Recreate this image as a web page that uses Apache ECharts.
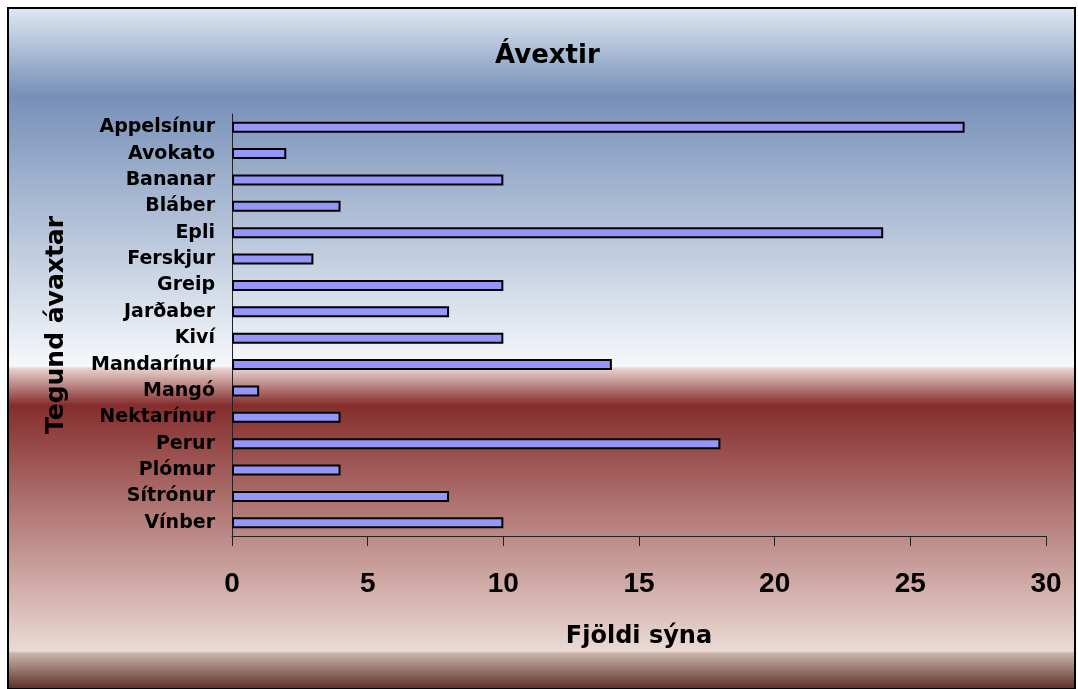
<!DOCTYPE html>
<html>
<head>
<meta charset="utf-8">
<script src="https://cdn.jsdelivr.net/npm/echarts@6/dist/echarts.min.js"></script>
<style>
  html, body { margin: 0; padding: 0; background: #fff; }
  #chart { width: 1078px; height: 689px; }
</style>
</head>
<body>
<div id="chart"></div>
<script>
// ávextir - fjöldi sýna eftir tegund
const categories = ['Appelsínur', 'Avokato', 'Bananar', 'Bláber', 'Epli', 'Ferskjur', 'Greip', 'Jarðaber',
  'Kiví', 'Mandarínur', 'Mangó', 'Nektarínur', 'Perur', 'Plómur', 'Sítrónur', 'Vínber'];
const counts = [27, 2, 10, 4, 24, 3, 10, 8, 10, 14, 1, 4, 18, 4, 8, 10];
const xTicks = [0, 5, 10, 15, 20, 25, 30];

const font = 'DejaVu Sans, Verdana, sans-serif';
const numFont = 'Liberation Sans, Arial, sans-serif';
const chart = echarts.init(document.getElementById('chart'));

const option = {
  animation: false,
  graphic: [
    {
      type: 'rect',
      z: -10,
      shape: { x: 8, y: 8, width: 1067, height: 681 },
      style: {
        fill: new echarts.graphic.LinearGradient(0, 0, 0, 1, [
          { offset: 0, color: '#dfe9f3' },
          { offset: 0.13, color: '#7690b8' },
          { offset: 0.526, color: '#f6f8fb' },
          { offset: 0.529, color: '#e8d3d0' },
          { offset: 0.583, color: '#852d2d' },
          { offset: 0.943, color: '#ebdad4' },
          { offset: 0.946, color: '#c9b5ad' },
          { offset: 1, color: '#5a2a22' }
        ]),
        stroke: '#000',
        lineWidth: 2
      }
    }
  ],
  title: {
    text: 'Ávextir',
    left: 490,
    top: 38,
    textStyle: { fontFamily: font, fontSize: 26, fontWeight: 'bold', color: '#000' }
  },
  grid: { left: 232, right: 32, top: 114, bottom: 153 },
  xAxis: {
    type: 'value',
    min: 0,
    max: 30,
    interval: 5,
    name: 'Fjöldi sýna',
    nameLocation: 'middle',
    nameGap: 89,
    nameTextStyle: { fontFamily: font, fontSize: 24, fontWeight: 'bold', color: '#000' },
    axisLine: { show: true, lineStyle: { color: '#222', width: 1 } },
    axisTick: { show: true, length: 10, lineStyle: { color: '#222' } },
    splitLine: { show: false },
    axisLabel: {
      margin: 34,
      fontFamily: numFont, fontSize: 28, fontWeight: 'bold', color: '#000',
      formatter: v => xTicks.includes(v) ? String(v) : ''
    }
  },
  yAxis: {
    type: 'category',
    inverse: true,
    data: categories,
    name: 'Tegund ávaxtar',
    nameLocation: 'middle',
    nameGap: 163,
    nameRotate: 90,
    nameTextStyle: { fontFamily: font, fontSize: 25, fontWeight: 'bold', color: '#000' },
    axisLine: { show: true, lineStyle: { color: '#222', width: 1 } },
    axisTick: { show: false },
    axisLabel: { margin: 17, fontFamily: font, fontSize: 19, fontWeight: 'bold', color: '#000' }
  },
  series: [
    {
      type: 'bar',
      data: counts,
      barWidth: 11,
      itemStyle: { color: '#9696f8', borderColor: '#000', borderWidth: 2 }
    }
  ]
};

chart.setOption(option);
</script>
</body>
</html>
